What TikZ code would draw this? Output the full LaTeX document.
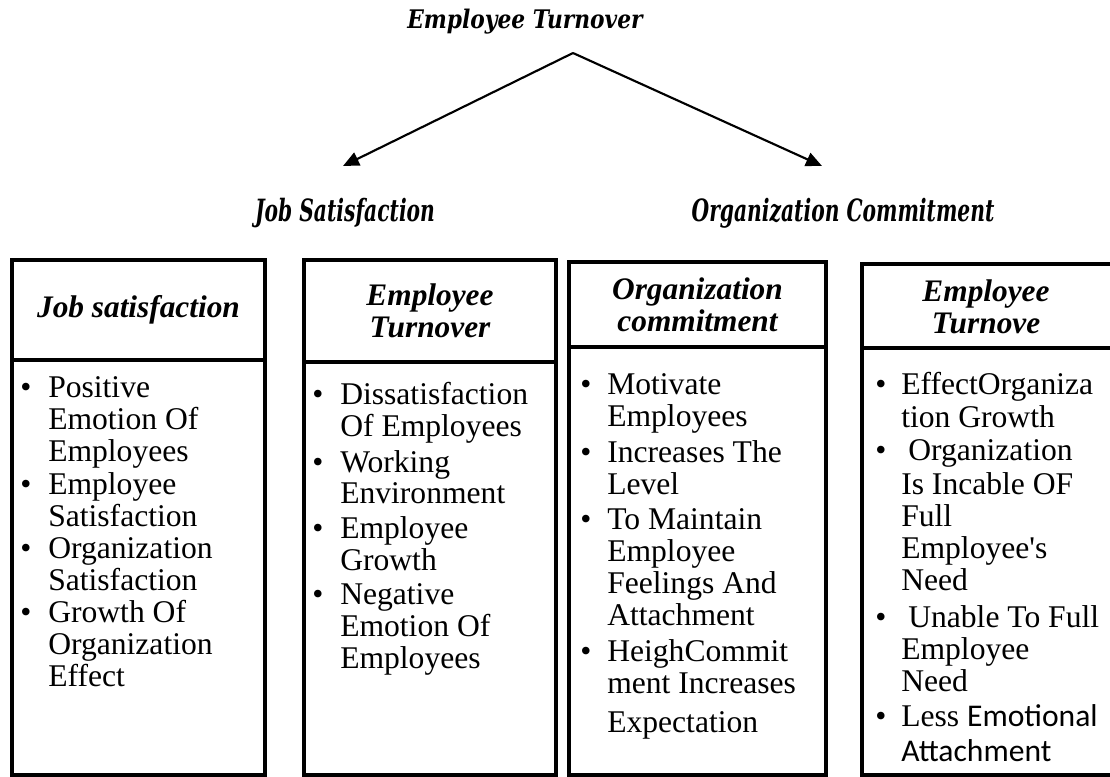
\documentclass[tikz,border=0pt]{standalone}
\usepackage{fontspec}
\setmainfont{Liberation Serif}[Ligatures=TeXOff]
\newfontfamily\titlefont{DejaVu Serif}[FakeStretch=0.85]
\newfontfamily\condfont{DejaVu Serif}[FakeStretch=0.66]
\newfontfamily\calibrifont{Carlito}
\usetikzlibrary{arrows.meta}

\tikzset{
  hdrbox/.style={draw, line width=3.2pt},
  bodybox/.style={draw, line width=2.4pt},
  hdrtext/.style={font=\fontsize{23.5}{24}\selectfont\bfseries\itshape, align=center, inner sep=0pt},
  txtline/.style={font=\fontsize{23.7}{24}\selectfont, anchor=base west, inner sep=0pt},
  bul/.style={font=\fontsize{23.7}{24}\selectfont, anchor=base, inner sep=0pt},
  toptitle/.style={font=\titlefont\fontsize{19.2}{21}\selectfont\bfseries\itshape, inner sep=0pt},
  sublabel/.style={font=\condfont\fontsize{23}{25}\selectfont\bfseries\itshape, inner sep=0pt},
  conn/.style={line width=1.6pt, -{Triangle[length=12pt,width=10.5pt]}}
}

\begin{document}
\begin{tikzpicture}[x=0.75pt,y=-0.75pt]
\useasboundingbox (0,0) rectangle (1110,777);
\clip (0,0) rectangle (1110,777);

% top of the tree
\node[toptitle] (title) at (525,22) {Employee Turnover};
\coordinate (apex) at (573,53);
\coordinate (jsTip) at (343,166);
\coordinate (ocTip) at (822,166);
\draw[conn] (apex) -- (jsTip);
\draw[conn] (apex) -- (ocTip);
\node[sublabel] (js) at (345,213) {Job Satisfaction};
\node[sublabel] (oc) at (843,213) {Organization Commitment};

% column frames: body first, header on top
\draw[bodybox] (12,360) rectangle (265,775);
\draw[hdrbox]  (12,260) rectangle (265,360);
\draw[bodybox] (304,362) rectangle (556,775);
\draw[hdrbox]  (304,260) rectangle (556,362);
\draw[bodybox] (569,347) rectangle (826,775);
\draw[hdrbox]  (569,262) rectangle (826,347);
\draw[bodybox] (862,348) rectangle (1120,775);
\draw[hdrbox]  (862,264) rectangle (1120,348);

% headers
\node[hdrtext] (h1) at (138.5,310) {Job satisfaction};
\node[hdrtext] (h2) at (430,311) {Employee\\Turnover};
\node[hdrtext] (h3) at (697.5,305) {Organization\\commitment};
\node[hdrtext] (h4) at (986,307) {Employee\\Turnove};

% column 1
\foreach \y [count=\i] in {397,494,558,622}
  \node[bul] (c1b\i) at (26,\y) {•};
\foreach \y/\t [count=\i] in {397/Positive, 429/Emotion Of, 461/Employees,
    494/Employee, 526/Satisfaction, 558/Organization, 590/Satisfaction,
    622/Growth Of, 654/Organization, 686/Effect}
  \node[txtline] (c1l\i) at (48,\y) {\t};

% column 2
\foreach \y [count=\i] in {404,472,538,604}
  \node[bul] (c2b\i) at (318,\y) {•};
\foreach \y/\t [count=\i] in {404/Dissatisfaction, 436/Of Employees,
    472/Working, 503/Environment, 538/Employee, 570/Growth,
    604/Negative, 636/Emotion Of, 668/Employees}
  \node[txtline] (c2l\i) at (340,\y) {\t};

% column 3
\foreach \y [count=\i] in {394,462,529,661}
  \node[bul] (c3b\i) at (586,\y) {•};
\foreach \y/\t [count=\i] in {394/Motivate, 426/Employees,
    462/Increases The, 494/Level, 529/To Maintain, 561/Employee,
    593/Feelings And, 625/Attachment, 661/HeighCommit,
    693/ment Increases, 732/Expectation}
  \node[txtline] (c3l\i) at (607,\y) {\t};

% column 4
\foreach \y [count=\i] in {394,460,627,726}
  \node[bul] (c4b\i) at (881,\y) {•};
\foreach \y/\t [count=\i] in {394/EffectOrganiza, 427/tion Growth,
    494/Is Incable OF, 526/Full, 558/Employee's, 590/Need,
    659/Employee, 691/Need}
  \node[txtline] (c4l\i) at (901,\y) {\t};
\node[txtline] (c4m1) at (908,460) {Organization};
\node[txtline] (c4m2) at (908,627) {Unable To Full};
\node[txtline] (c4m3) at (901,726) {Less {\calibrifont Emotional}};
\node[txtline] (c4m4) at (901,761) {\calibrifont Attachment};
\end{tikzpicture}
\end{document}
